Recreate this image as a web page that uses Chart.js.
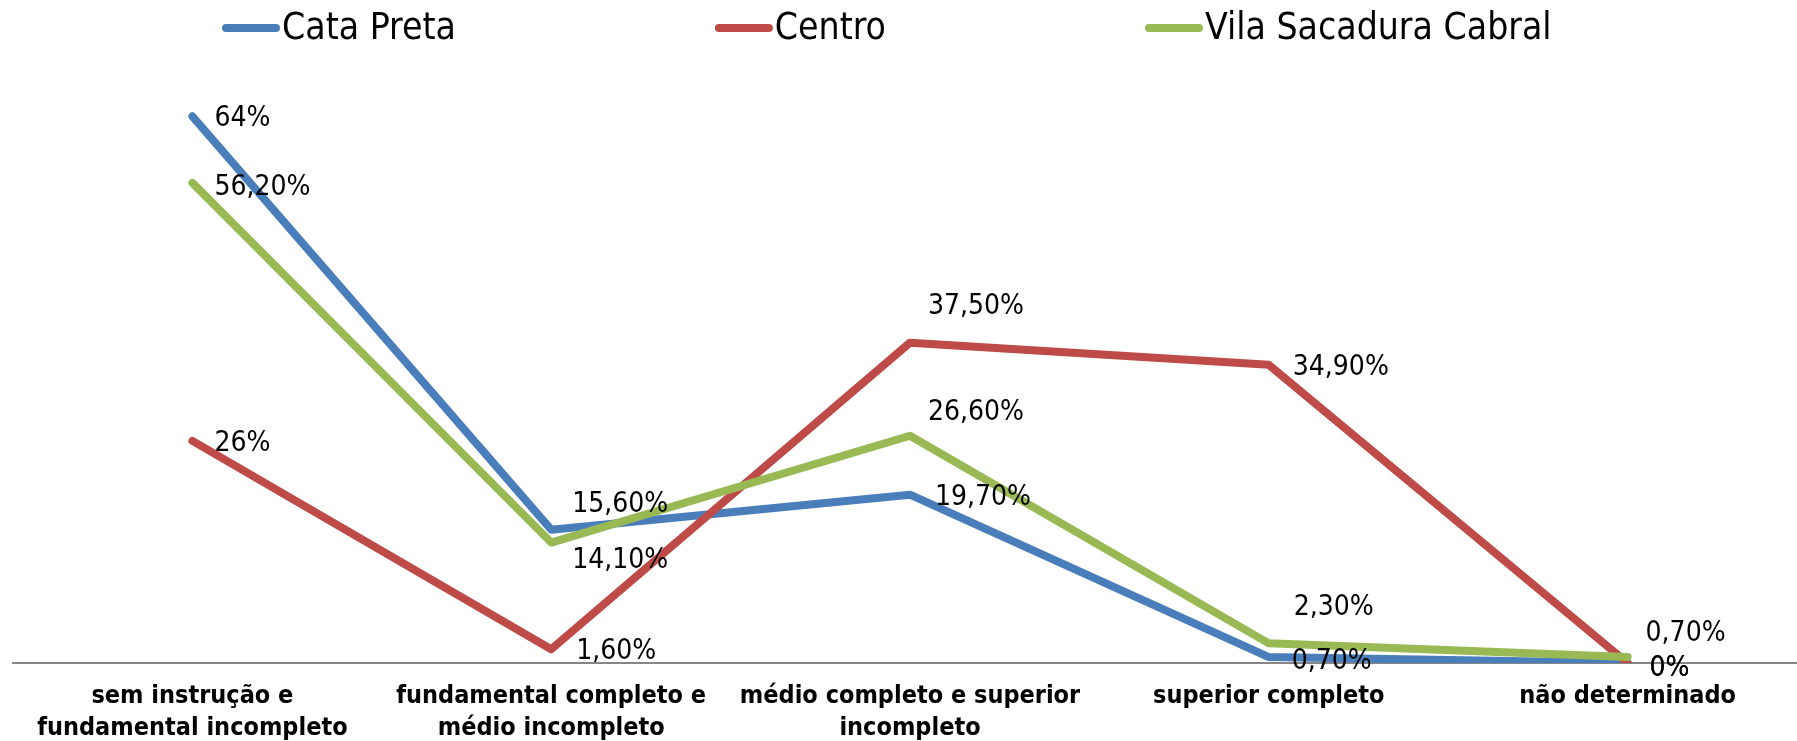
<!DOCTYPE html>
<html>
<head>
<meta charset="utf-8">
<script src="https://cdn.jsdelivr.net/npm/chart.js@4"></script>
<style>
  html, body { margin: 0; padding: 0; background: #fff; overflow: hidden; }
  canvas { display: block; }
</style>
</head>
<body>
<canvas id="myChart" width="1807" height="741"></canvas>
<script>
const ctx = document.getElementById('myChart');

const categories = [
  ['sem instrução e', 'fundamental incompleto'],
  ['fundamental completo e', 'médio incompleto'],
  ['médio completo e superior', 'incompleto'],
  'superior completo',
  'não determinado'
];

const seriesNames = ['Cata Preta', 'Centro', 'Vila Sacadura Cabral'];
const cataPreta = [64, 15.6, 19.7, 0.7, 0];
const centro = [26, 1.6, 37.5, 34.9, 0];
const vilaSacadura = [56.2, 14.1, 26.6, 2.3, 0.7];

const colors = ['#4A7EBB', '#BE4B48', '#98B954'];
const FONT = '"DejaVu Sans Condensed", "DejaVu Sans", sans-serif';

// where each data label sits, relative to its point (dx, dy)
const labelOffsets = [
  [[22, 0], [21, -28], [25, 0], [23, 2], [22, 3]],
  [[22, 0], [25, 0], [18, -39], [24, 0], [22, 3]],
  [[22, 2], [21, 15], [18, -26], [25, -38], [18, -26]]
];

function fmt(v) {
  // 64 -> "64%", 15.6 -> "15,60%"
  if (Number.isInteger(v)) return v + '%';
  return v.toFixed(2).replace('.', ',') + '%';
}

const pointLabels = {
  id: 'pointLabels',
  afterDatasetsDraw(chart) {
    const c = chart.ctx;
    c.save();
    c.font = '28px ' + FONT;
    c.fillStyle = '#000';
    c.textAlign = 'left';
    c.textBaseline = 'alphabetic';
    chart.data.datasets.forEach((ds, i) => {
      const meta = chart.getDatasetMeta(i);
      meta.data.forEach((pt, j) => {
        const off = labelOffsets[i][j];
        c.fillText(fmt(ds.data[j]), pt.x + off[0], pt.y + off[1] + 10);
      });
    });
    c.restore();
  }
};

// legend drawn by hand so the spacing matches the original
const topLegend = {
  id: 'topLegend',
  afterDraw(chart) {
    const c = chart.ctx;
    c.save();
    c.font = '37px ' + FONT;
    c.textBaseline = 'alphabetic';
    let x = 222;
    seriesNames.forEach((name, i) => {
      c.strokeStyle = colors[i];
      c.lineWidth = 8;
      c.lineCap = 'round';
      c.beginPath();
      c.moveTo(x + 4, 28);
      c.lineTo(x + 54, 28);
      c.stroke();
      c.fillStyle = '#000';
      c.fillText(name, x + 60, 39);
      x += 60 + c.measureText(name).width + 259;
    });
    c.restore();
  }
};

const datasets = [cataPreta, centro, vilaSacadura].map((vals, i) => ({
  label: seriesNames[i],
  data: vals,
  borderColor: colors[i],
  backgroundColor: colors[i],
  borderWidth: 8,
  borderCapStyle: 'round',
  borderJoinStyle: 'round',
  pointRadius: 0,
  tension: 0,
  order: 3 - i
}));

new Chart(ctx, {
  type: 'line',
  data: {
    labels: categories,
    datasets: datasets
  },
  options: {
    responsive: false,
    animation: false,
    layout: { padding: { top: 65, left: 13, right: 0, bottom: 0 } },
    plugins: {
      legend: { display: false },
      tooltip: { enabled: false }
    },
    scales: {
      x: {
        offset: true,
        grid: { display: false },
        border: { display: true, color: '#868686', width: 2 },
        ticks: {
          color: '#000',
          padding: 10,
          maxRotation: 0,
          autoSkip: false,
          font: { family: FONT, size: 25, weight: 'bold', lineHeight: 1.27 }
        },
        afterFit(scale) { scale.height = 78; }
      },
      y: {
        display: false,
        min: 0,
        max: 70
      }
    }
  },
  plugins: [pointLabels, topLegend]
});
</script>
</body>
</html>
